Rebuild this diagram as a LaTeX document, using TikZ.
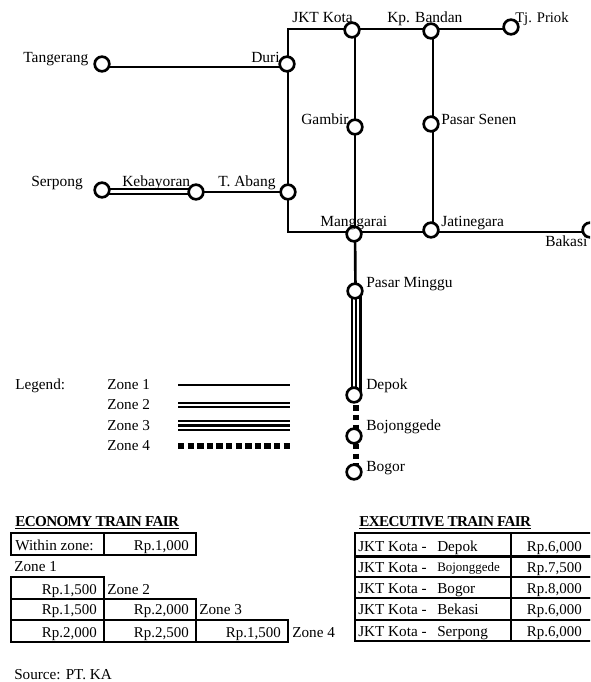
\documentclass[tikz,border=0pt]{standalone}
\usepackage{fontspec}
\setmainfont{Liberation Serif}
\newfontfamily\headfont[LetterSpace=-4]{Liberation Serif}
\begin{document}
\begin{tikzpicture}[x=0.75pt,y=-0.75pt,
  every node/.style={font=\fontsize{11.6}{13}\selectfont,inner sep=0pt},
  stn/.style={circle,draw=black,fill=white,line width=2pt,minimum size=11pt,inner sep=0pt},
  lab/.style={anchor=base west},
  tbl/.style={anchor=base west,font=\fontsize{11.4}{13}\selectfont},
  rail/.style={line width=2pt,black},
  railb/.style={line width=1.75pt,black},
  raild/.style={line width=4.3pt,black,dash pattern=on 4.1pt off 3.15pt},
  cell/.style={draw=black,line width=1.9pt},
  val/.style={anchor=base east,font=\fontsize{11.2}{13}\selectfont},
  head/.style={anchor=base west,font=\fontsize{11.35}{12}\selectfont\headfont\bfseries}
]
\path[use as bounding box] (0,0) rectangle (590,682);
\clip (0,0) rectangle (590,682);
% junction coordinates
\coordinate (cTL) at (288,29);
\coordinate (cKT) at (355,29);
\coordinate (cKB) at (433,29);
\coordinate (cTP) at (511,29);
\coordinate (cBL) at (288,232);
\coordinate (cMG) at (355,232);
\coordinate (cJN) at (433,232);
\coordinate (cBK) at (590,232);
\coordinate (cTG) at (102,67);
\coordinate (cDR) at (288,67);
\coordinate (cTA) at (288,192);
\coordinate (cKY) at (196,192);
\coordinate (cPM) at (355.5,291);
\coordinate (cDP) at (356,395.6);
\coordinate (cBG) at (356,472);
% lines
\draw[rail,line join=miter] (cKT) -- (cTL) -- (cBL) -- (cMG);
\draw[rail] (cKT) -- (cKB);
\draw[rail] (cKB) -- (cTP);
\draw[rail] (cMG) -- (cJN);
\draw[rail] (cJN) -- (cBK);
\draw[rail] (cKT) -- (cMG);
\draw[rail] (cKB) -- (cJN);
\draw[rail] (cTG) -- (cDR);
\draw[rail] (cKY) -- (cTA);
\draw[rail] (cMG) -- (cPM);
% double Serpong - Kebayoran
\draw[railb] (102,189.2) -- (196,189.2);
\draw[railb] (102,193.8) -- (196,193.8);
% triple Pasar Minggu - Depok
\draw[railb] (351.8,291) -- (351.8,395);
\draw[railb] (356.2,291) -- (356.2,395);
\draw[railb] (360.6,291) -- (360.6,395);
% dotted
\draw[raild] (cDP) -- (cBG);
% stations
\node[stn] (Tangerang) at (102,64) {};
\node[stn] (Duri) at (287,64) {};
\node[stn] (JKTKota) at (352,30) {};
\node[stn] (KpBandan) at (431,31) {};
\node[stn] (TjPriok) at (511,27) {};
\node[stn] (Gambir) at (355,127) {};
\node[stn] (PasarSenen) at (431,124) {};
\node[stn] (Serpong) at (102,190) {};
\node[stn] (Kebayoran) at (196,192) {};
\node[stn] (TAbang) at (288,192) {};
\node[stn] (Manggarai) at (354,234) {};
\node[stn] (Jatinegara) at (431,230) {};
\node[stn] (Bakasi) at (590,230) {};
\node[stn] (PasarMinggu) at (355,291) {};
\node[stn] (Depok) at (354,395) {};
\node[stn] (Bojonggede) at (354,436) {};
\node[stn] (Bogor) at (354,472) {};
% labels
\node[lab] (tTangerang) at (23,62) {Tangerang};
\node[lab] (tDuri) at (251,62) {Duri};
\node[lab] (tJKT) at (292,22) {JKT Kota};
\node[lab] (tKp) at (387,22) {Kp. Bandan};
\node[lab,font=\fontsize{11}{13}\selectfont] (tTj) at (515,22) {Tj. Priok};
\node[lab] (tGambir) at (301,124) {Gambir};
\node[lab] (tSenen) at (441,124) {Pasar Senen};
\node[lab] (tSerpong) at (31,186) {Serpong};
\node[lab] (tKeb) at (122,186) {Kebayoran};
\node[lab] (tAbang) at (218,186) {T. Abang};
\node[lab] (tMang) at (320,226) {Manggarai};
\node[lab] (tJati) at (441,226) {Jatinegara};
\node[lab] (tBak) at (545,246) {Bakasi};
\node[lab] (tPM) at (366,287) {Pasar Minggu};
\node[lab] (tDep) at (366,389) {Depok};
\node[lab] (tBoj) at (366,430) {Bojonggede};
\node[lab] (tBog) at (366,471) {Bogor};
% legend
\node[tbl] (tLeg) at (15,389) {Legend:};
\node[tbl] (z1) at (107,389) {Zone 1};
\node[tbl] (z2) at (107,409) {Zone 2};
\node[tbl] (z3) at (107,430) {Zone 3};
\node[tbl] (z4) at (107,450) {Zone 4};
\draw[line width=1.7pt] (178,385) -- (290,385);
\draw[railb] (178,403.2) -- (290,403.2);
\draw[railb] (178,407.3) -- (290,407.3);
\draw[railb] (178,421.2) -- (290,421.2);
\draw[railb] (178,425.5) -- (290,425.5);
\draw[railb] (178,429.8) -- (290,429.8);
\draw[line width=4.5pt,dash pattern=on 4.75pt off 2.45pt] (178,446) -- (290,446);
% economy table
\node[head] (hE) at (15,526) {\underline{ECONOMY TRAIN FAIR}};
\draw[cell] (11,533) rectangle (104,555);
\draw[cell] (104,533) rectangle (196,555);
\draw[cell] (11,577) rectangle (104,599);
\draw[cell] (11,599) rectangle (104,620);
\draw[cell] (104,599) rectangle (196,620);
\draw[cell] (11,620) rectangle (104,642);
\draw[cell] (104,620) rectangle (196,642);
\draw[cell] (196,620) rectangle (288,642);
\node[tbl] (e0) at (15,550) {Within zone:};
\node[val] (e1) at (189,550) {Rp.1,000};
\node[tbl] (e2) at (14,571) {Zone 1};
\node[val] (e3) at (97,594) {Rp.1,500};
\node[tbl] (e4) at (107,594) {Zone 2};
\node[val] (e5) at (97,614) {Rp.1,500};
\node[val] (e6) at (189,614) {Rp.2,000};
\node[tbl] (e7) at (199,614) {Zone 3};
\node[val] (e8) at (97,637) {Rp.2,000};
\node[val] (e9) at (189,637) {Rp.2,500};
\node[val] (e10) at (281,637) {Rp.1,500};
\node[tbl] (e11) at (292,637) {Zone 4};
\node[tbl] (src) at (14,679) {Source: PT. KA};
% executive table
\node[head] (hX) at (359,526) {\underline{EXECUTIVE TRAIN FAIR}};
\foreach \a/\b in {533/556.5,556.5/577,577/598,598/620,620/641}{
  \draw[cell] (355,\a) rectangle (511,\b);
  \draw[cell] (511,\a) rectangle (600,\b);
}
\node[tbl] (x1) at (358,551) {JKT Kota -};
\node[tbl] (x2) at (358,572) {JKT Kota -};
\node[tbl] (x3) at (358,593) {JKT Kota -};
\node[tbl] (x4) at (358,614.5) {JKT Kota -};
\node[tbl] (x5) at (358,636) {JKT Kota -};
\node[tbl] (y1) at (437,551) {Depok};
\node[tbl,font=\fontsize{9.7}{10}\selectfont] (y2) at (437,571) {Bojonggede};
\node[tbl] (y3) at (437,593) {Bogor};
\node[tbl] (y4) at (437,614.5) {Bekasi};
\node[tbl] (y5) at (437,636) {Serpong};
\node[val] (v1) at (582,551) {Rp.6,000};
\node[val] (v2) at (582,572) {Rp.7,500};
\node[val] (v3) at (582,593) {Rp.8,000};
\node[val] (v4) at (582,614.5) {Rp.6,000};
\node[val] (v5) at (582,636) {Rp.6,000};
\end{tikzpicture}
\end{document}
